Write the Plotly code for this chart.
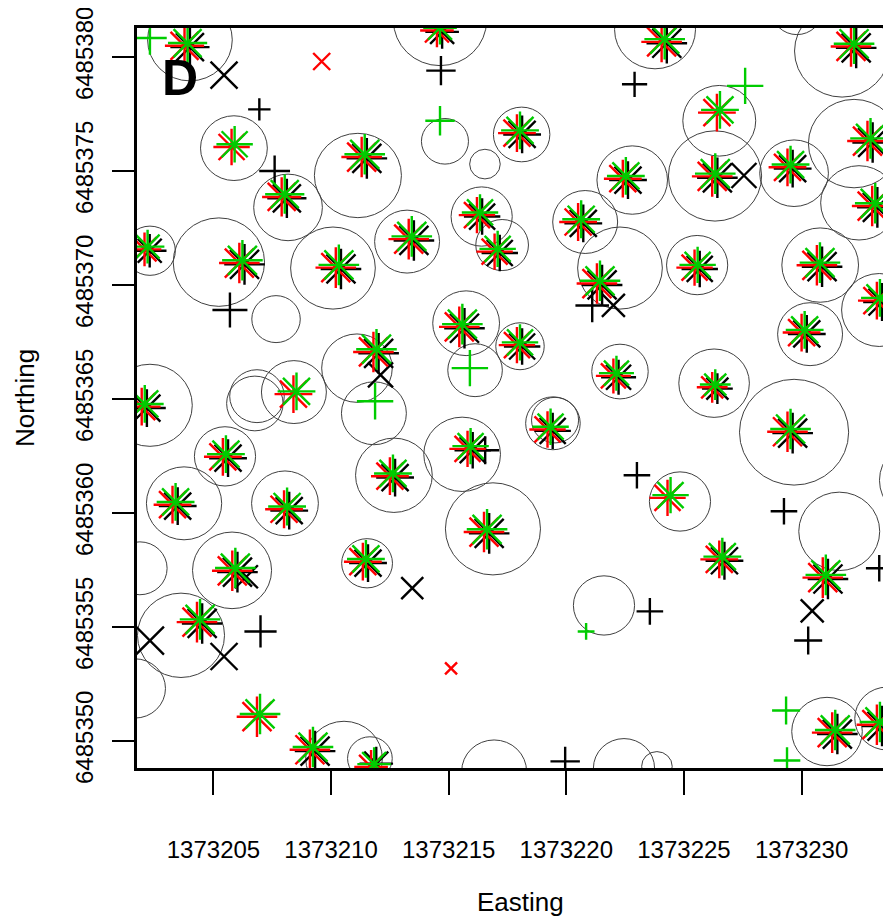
import plotly.graph_objects as go

# ---------------- data ----------------
x_ticks = [1373205, 1373210, 1373215, 1373220, 1373225, 1373230]
y_ticks = [6485350, 6485355, 6485360, 6485365, 6485370, 6485375, 6485380]
x_tick_labels = [str(v) for v in x_ticks]
y_tick_labels = [str(v) for v in y_ticks]

# crown circles (centre easting, northing, radius in m)
circle_e = [1373204.0, 1373205.87, 1373208.17, 1373211.14, 1373202.3, 1373205.23, 1373210.08, 1373214.63,
            1373218.1, 1373214.84, 1373216.54, 1373216.4, 1373217.27, 1373213.23, 1373220.8, 1373222.8,
            1373222.28, 1373223.77, 1373231.72, 1373226.5, 1373226.32, 1373229.68, 1373232.23, 1373232.44,
            1373225.56, 1373230.79, 1373233.3, 1373230.36, 1373207.66, 1373211.1, 1373211.82, 1373202.3,
            1373206.76, 1373206.85, 1373208.42, 1373205.49, 1373203.75, 1373208.04, 1373215.74, 1373216.12,
            1373218.03, 1373219.43, 1373219.52, 1373215.57, 1373212.67, 1373216.88, 1373222.28, 1373226.28,
            1373229.68, 1373224.83, 1373231.6, 1373235.03, 1373235.03, 1373205.79, 1373201.87, 1373203.62,
            1373201.66, 1373211.53, 1373210.55, 1373211.65, 1373221.6, 1373216.93, 1373222.45, 1373223.85,
            1373231.08, 1373233.64, 1373229.8]
circle_n = [6485380.75, 6485376.0, 6485373.4, 6485374.8, 6485371.5, 6485371.0, 6485370.74, 6485381.6,
            6485376.6, 6485376.3, 6485375.3, 6485373.0, 6485371.75, 6485371.9, 6485372.76, 6485374.6,
            6485370.74, 6485381.2, 6485380.26, 6485377.2, 6485374.78, 6485374.9, 6485376.2, 6485373.6,
            6485370.87, 6485370.87, 6485368.9, 6485367.84, 6485368.5, 6485366.35, 6485364.37, 6485364.72,
            6485364.8, 6485365.12, 6485365.3, 6485362.48, 6485360.42, 6485360.42, 6485368.32, 6485366.26,
            6485367.31, 6485363.93, 6485364.07, 6485362.57, 6485361.65, 6485359.3, 6485366.2, 6485365.69,
            6485363.54, 6485360.5, 6485359.19, 6485367.0, 6485361.43, 6485357.48, 6485357.57, 6485354.63,
            6485352.3, 6485357.79, 6485349.23, 6485349.23, 6485355.94, 6485348.66, 6485348.8, 6485348.88,
            6485350.41, 6485350.98, 6485382.06]
circle_r = [1.8, 1.42, 1.46, 1.85, 1.08, 1.94, 1.8, 1.98,
            1.2, 1.0, 0.65, 1.3, 1.12, 1.38, 1.38, 1.5,
            1.8, 1.72, 2.02, 1.55, 1.98, 1.46, 1.94, 1.63,
            1.3, 1.63, 1.6, 1.38, 1.03, 1.5, 1.38, 1.8,
            1.2, 1.16, 1.38, 1.3, 1.6, 1.42, 1.42, 1.16,
            1.03, 1.16, 1.0, 1.63, 1.63, 2.02, 1.2, 1.5,
            2.32, 1.3, 1.72, 1.5, 1.72, 1.68, 1.16, 1.85,
            1.3, 1.08, 1.63, 0.95, 1.3, 1.38, 1.3, 0.65,
            1.5, 1.38, 1.08]

# black detections (drawn as both x and +)
black_e = [1373204.0, 1373208.12, 1373211.52, 1373202.29, 1373206.32, 1373210.42, 1373214.72, 1373218.12,
           1373216.42, 1373217.17, 1373213.52, 1373220.72, 1373222.62, 1373224.27, 1373232.32, 1373226.42,
           1373229.62, 1373233.02, 1373233.22, 1373225.67, 1373230.87, 1373233.42, 1373221.52, 1373215.67,
           1373218.12, 1373212.02, 1373202.17, 1373205.62, 1373203.48, 1373208.22, 1373216.02, 1373212.72,
           1373219.42, 1373222.22, 1373226.42, 1373230.22, 1373229.62, 1373206.02, 1373204.52, 1373211.57,
           1373209.32, 1373211.92, 1373216.72, 1373226.72, 1373231.12, 1373231.52, 1373233.42]
black_n = [6485380.43, 6485373.8, 6485375.55, 6485371.5, 6485370.9, 6485370.7, 6485381.1, 6485376.6,
           6485373.0, 6485371.4, 6485371.95, 6485372.7, 6485374.6, 6485380.6, 6485380.4, 6485374.7,
           6485375.1, 6485376.25, 6485373.4, 6485370.7, 6485370.8, 6485369.25, 6485370.0, 6485368.1,
           6485367.3, 6485367.0, 6485364.6, 6485362.4, 6485360.3, 6485360.1, 6485362.75, 6485361.55,
           6485363.6, 6485365.95, 6485365.45, 6485367.85, 6485363.5, 6485357.4, 6485355.15, 6485357.8,
           6485349.55, 6485349.0, 6485359.1, 6485357.9, 6485357.1, 6485350.3, 6485350.65]
black_size = [28, 28, 29, 24, 29, 29, 24, 27, 26, 26, 29, 27, 27, 29, 29, 29,
              27, 29, 29, 26, 29, 27, 29, 29, 26, 29, 27, 27, 27, 27, 26, 27,
              26, 25, 22, 27, 29, 29, 29, 27, 29, 24, 29, 27, 29, 29, 29]

# red detections (drawn as both x and +)
red_e = [1373203.77, 1373205.77, 1373207.9, 1373211.3, 1373202.07, 1373206.1, 1373210.2, 1373214.5,
         1373217.9, 1373216.2, 1373216.95, 1373213.3, 1373220.5, 1373222.4, 1373224.05, 1373232.1,
         1373226.4, 1373226.2, 1373229.4, 1373232.8, 1373233.0, 1373225.45, 1373230.65, 1373233.2,
         1373221.3, 1373215.45, 1373217.9, 1373211.8, 1373201.95, 1373208.4, 1373205.4, 1373203.26,
         1373208.0, 1373215.8, 1373212.5, 1373219.2, 1373222.0, 1373226.2, 1373230.0, 1373229.4,
         1373224.3, 1373205.8, 1373204.3, 1373211.35, 1373206.85, 1373209.1, 1373211.7, 1373216.5,
         1373226.5, 1373230.9, 1373231.3, 1373233.2]
red_n = [6485380.49, 6485376.05, 6485373.86, 6485375.61, 6485371.56, 6485370.96, 6485370.76, 6485381.16,
         6485376.66, 6485373.06, 6485371.46, 6485372.01, 6485372.76, 6485374.66, 6485380.66, 6485380.46,
         6485377.56, 6485374.76, 6485375.16, 6485376.31, 6485373.46, 6485370.76, 6485370.86, 6485369.31,
         6485370.06, 6485368.16, 6485367.36, 6485367.06, 6485364.66, 6485365.21, 6485362.46, 6485360.36,
         6485360.16, 6485362.81, 6485361.61, 6485363.66, 6485366.01, 6485365.51, 6485367.91, 6485363.56,
         6485360.66, 6485357.46, 6485355.21, 6485357.86, 6485351.06, 6485349.61, 6485348.86, 6485359.16,
         6485357.96, 6485357.16, 6485350.36, 6485350.71]
red_size = [28, 26, 28, 29, 24, 29, 29, 24, 27, 26, 26, 29, 27, 27, 29, 29,
            27, 29, 27, 29, 29, 26, 29, 27, 29, 29, 26, 29, 27, 27, 27, 27,
            27, 26, 27, 26, 25, 22, 27, 29, 26, 29, 29, 27, 29, 29, 24, 29,
            27, 29, 29, 29]

# green detections (drawn as both x and +)
green_e = [1373203.9, 1373205.9, 1373208.03, 1373211.43, 1373202.2, 1373206.23, 1373210.33, 1373214.63,
           1373218.03, 1373216.33, 1373217.08, 1373213.43, 1373220.63, 1373222.53, 1373224.18, 1373232.23,
           1373226.53, 1373226.33, 1373229.53, 1373232.93, 1373233.13, 1373225.58, 1373230.78, 1373233.33,
           1373221.43, 1373215.58, 1373218.03, 1373211.93, 1373202.08, 1373208.53, 1373205.53, 1373203.39,
           1373208.13, 1373215.93, 1373212.63, 1373219.33, 1373222.13, 1373226.33, 1373230.13, 1373229.53,
           1373224.43, 1373205.93, 1373204.43, 1373211.48, 1373206.98, 1373209.23, 1373211.83, 1373216.63,
           1373226.63, 1373231.03, 1373231.43, 1373233.33]
green_n = [6485380.61, 6485376.17, 6485373.98, 6485375.73, 6485371.68, 6485371.08, 6485370.88, 6485381.28,
           6485376.78, 6485373.18, 6485371.58, 6485372.13, 6485372.88, 6485374.78, 6485380.78, 6485380.58,
           6485377.68, 6485374.88, 6485375.28, 6485376.43, 6485373.58, 6485370.88, 6485370.98, 6485369.43,
           6485370.18, 6485368.28, 6485367.48, 6485367.18, 6485364.78, 6485365.33, 6485362.58, 6485360.48,
           6485360.28, 6485362.93, 6485361.73, 6485363.78, 6485366.13, 6485365.63, 6485368.03, 6485363.68,
           6485360.78, 6485357.58, 6485355.33, 6485357.98, 6485351.18, 6485349.73, 6485348.98, 6485359.28,
           6485358.08, 6485357.28, 6485350.48, 6485350.83]
green_size = red_size

# single detections
black_x_e = [1373205.45, 1373227.55, 1373222.0, 1373212.1, 1373206.4, 1373202.3, 1373205.45, 1373213.45, 1373230.45]
black_x_n = [6485379.2, 6485374.8, 6485369.1, 6485366.05, 6485357.2, 6485354.4, 6485353.7, 6485356.7, 6485355.7]
black_x_size = [27, 25, 23, 25, 23, 28, 27, 22, 23]

black_p_e = [1373206.95, 1373207.6, 1373214.67, 1373222.9, 1373205.7, 1373221.1, 1373216.55, 1373223.0,
             1373229.25, 1373233.3, 1373223.55, 1373230.28, 1373219.95, 1373207.0]
black_p_n = [6485377.7, 6485375.0, 6485379.4, 6485378.8, 6485368.9, 6485369.1, 6485362.75, 6485361.65,
             6485360.07, 6485357.57, 6485355.68, 6485354.4, 6485349.1, 6485354.8]
black_p_size = [16, 22, 21, 18, 25, 24, 20, 19, 19, 19, 19, 20, 21, 23]

red_x_e = [1373209.6, 1373215.1]
red_x_n = [6485379.8, 6485353.18]
red_x_size = [17, 12]

green_p_e = [1373202.3, 1373227.6, 1373214.63, 1373211.87, 1373215.9, 1373220.84, 1373229.34, 1373229.38]
green_p_n = [6485380.83, 6485378.73, 6485377.2, 6485364.9, 6485366.35, 6485354.8, 6485351.33, 6485349.14]
green_p_size = [24, 26, 21, 26, 26, 12, 20, 19]

BLACK = "#000000"
RED = "#FF0000"
GREEN = "#00CC00"
FONT = "Liberation Sans, Arial, sans-serif"

# ---------------- figure ----------------
fig = go.Figure()


def add_markers(xs, ys, sizes, color, symbol):
    fig.add_trace(go.Scatter(
        x=xs, y=ys, mode="markers", showlegend=False, hoverinfo="skip",
        marker=dict(symbol=symbol, size=sizes, color=color, opacity=1,
                    line=dict(color=color, width=2.4)),
    ))


add_markers(black_e, black_n, black_size, BLACK, "x-thin-open")
add_markers(black_e, black_n, black_size, BLACK, "cross-thin-open")
add_markers(black_x_e, black_x_n, black_x_size, BLACK, "x-thin-open")
add_markers(black_p_e, black_p_n, black_p_size, BLACK, "cross-thin-open")
add_markers(red_e, red_n, red_size, RED, "x-thin-open")
add_markers(red_e, red_n, red_size, RED, "cross-thin-open")
add_markers(red_x_e, red_x_n, red_x_size, RED, "x-thin-open")
add_markers(green_e, green_n, green_size, GREEN, "x-thin-open")
add_markers(green_e, green_n, green_size, GREEN, "cross-thin-open")
add_markers(green_p_e, green_p_n, green_p_size, GREEN, "cross-thin-open")

shapes = []
for ce, cn, cr in zip(circle_e, circle_n, circle_r):
    shapes.append(dict(type="circle", xref="x", yref="y",
                       x0=ce - cr, x1=ce + cr, y0=cn - cr, y1=cn + cr,
                       line=dict(color="#404040", width=1), layer="below"))

# the page body has an 8 px margin, so the figure is 8 px smaller each way
fig.update_layout(
    width=883, height=910,
    margin=dict(l=129, r=0, t=20, b=150),
    paper_bgcolor="white", plot_bgcolor="white",
    font=dict(family=FONT, color="black"),
    shapes=shapes,
    xaxis=dict(range=[1373201.75, 1373233.8], tickvals=x_ticks, ticktext=x_tick_labels,
               showgrid=False, zeroline=False, showline=True, linecolor="black", linewidth=3,
               mirror=True, ticks="outside", ticklen=24, tickwidth=2, tickcolor="black",
               tickfont=dict(size=24, family=FONT, color="black"), ticklabelstandoff=34,
               ticklabeloverflow="allow"),
    yaxis=dict(range=[6485348.81, 6485381.27], tickvals=y_ticks, ticktext=y_tick_labels,
               showgrid=False, zeroline=False, showline=True, linecolor="black", linewidth=3,
               mirror=False, ticks="outside", ticklen=22, tickwidth=2, tickcolor="black",
               tickangle=-90, tickfont=dict(size=24, family=FONT, color="black"),
               ticklabelstandoff=9, ticklabeloverflow="allow"),
    annotations=[
        dict(text="Easting", xref="paper", yref="paper", x=0.508, y=-0.181,
             xanchor="center", yanchor="middle", showarrow=False,
             font=dict(size=26, family=FONT, color="black")),
        dict(text="Northing", xref="paper", yref="paper", x=-0.1485, y=0.5,
             xanchor="center", yanchor="middle", showarrow=False, textangle=-90,
             font=dict(size=26, family=FONT, color="black")),
        dict(text="<b>D</b>", xref="paper", yref="paper", x=0.057, y=0.932,
             xanchor="center", yanchor="middle", showarrow=False,
             font=dict(size=50, family=FONT, color="black")),
    ],
)

fig.write_html("out.html")
